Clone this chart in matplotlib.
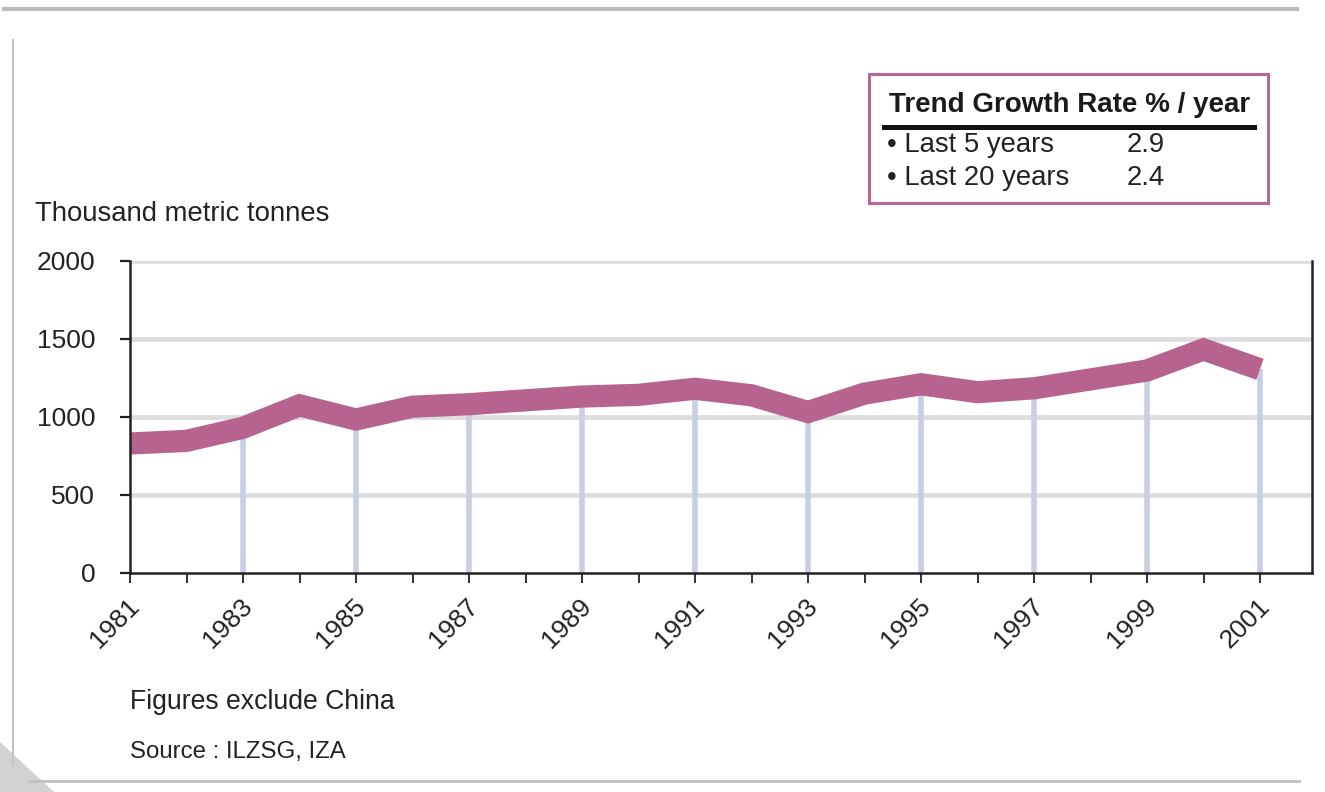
import matplotlib
matplotlib.use("Agg")
import matplotlib.pyplot as plt
from matplotlib.patches import Rectangle, Polygon
from matplotlib.lines import Line2D
from matplotlib.transforms import ScaledTranslation

# ---- data ----
years = list(range(1981, 2002))
consumption = [830, 847, 931, 1075, 984, 1066, 1082, 1107, 1131, 1142, 1181,
               1139, 1032, 1150, 1210, 1159, 1184, 1241, 1298, 1433, 1306]
stem_years = list(range(1983, 2002, 2))
y_ticks = [0, 500, 1000, 1500, 2000]
x_label_years = list(range(1981, 2002, 2))
box_title = "Trend Growth Rate % / year"
box_rows = ["\u2022 Last 5 years", "\u2022 Last 20 years"]
box_values = ["2.9", "2.4"]

W, H = 1325, 792
plt.rcParams['font.family'] = ['Liberation Sans', 'DejaVu Sans']
fig = plt.figure(figsize=(W / 100, H / 100), dpi=100)
fig.patch.set_facecolor('white')

def fx(x):
    return x / W

def fy(y):
    return 1 - y / H

# axes placement (pixels)
ax_l, ax_r, ax_t, ax_b = 130, 1312, 261, 573
ax = fig.add_axes([fx(ax_l), fy(ax_b), (ax_r - ax_l) / W, (ax_b - ax_t) / H])
ax.set_xlim(1981, 1981 + (ax_r - ax_l) / 56.5)
ax.set_ylim(0, 2000)

band_color = '#B6648F'
stem_color = '#C7CFE6'
grid_color = '#DCDDDF'

# gridlines
for v in y_ticks[1:]:
    ax.axhline(v, color=grid_color, lw=3.4, zorder=1)

# stems at odd years
stem_vals = [consumption[years.index(y)] for y in stem_years]
ax.vlines(stem_years, 0, stem_vals, colors=stem_color, lw=4.0, zorder=2)

# thick band line
ax.plot(years, consumption, color=band_color, lw=16,
        solid_capstyle='butt', solid_joinstyle='miter', zorder=3)

# spines
ax.spines['top'].set_visible(False)
for s in ['left', 'bottom', 'right']:
    ax.spines[s].set_linewidth(1.8)
    ax.spines[s].set_color('#222222')
    ax.spines[s].set_zorder(4)

ax.set_yticks(y_ticks)
ax.set_yticklabels([str(v) for v in y_ticks])
ax.set_xticks(years)
ax.set_xticklabels([str(y) if y in x_label_years else '' for y in years])

ax.tick_params(axis='y', direction='out', length=7, width=1.6, color='#222222',
               labelsize=19, pad=18, labelcolor='#222222')
ax.tick_params(axis='x', direction='out', length=7, width=1.3, color='#222222',
               labelsize=19, pad=14, labelcolor='#222222')
offset = ScaledTranslation(6 / 100, 0, fig.dpi_scale_trans)
for lbl in ax.get_xticklabels():
    lbl.set_rotation(45)
    lbl.set_rotation_mode('anchor')
    lbl.set_ha('right')
    lbl.set_va('center')
    lbl.set_transform(lbl.get_transform() + offset)

# texts
fig.text(fx(35), fy(214), "Thousand metric tonnes", fontsize=19.8, va='center',
         ha='left', color='#222222')
fig.text(fx(130), fy(702), "Figures exclude China", fontsize=19.2, va='center',
         ha='left', color='#222222')
fig.text(fx(130), fy(752), "Source : ILZSG, IZA", fontsize=17.3, va='center',
         ha='left', color='#222222',
         family=['Liberation Sans Narrow', 'Liberation Sans'])

# growth-rate box
fig.add_artist(Rectangle((fx(869), fy(203)), (1268 - 869) / W, (203 - 74) / H,
                         fill=False, edgecolor='#B8679C', lw=2.2))
fig.text(fx(889), fy(105), box_title, fontsize=20, fontweight='bold',
         va='center', ha='left', color='#1a1a1a')
fig.add_artist(Line2D([fx(884), fx(1254)], [fy(127), fy(127)], color='#111111',
                      lw=3.6))
for i, (r, v) in enumerate(zip(box_rows, box_values)):
    yy = 145 + i * 33
    fig.text(fx(887), fy(yy), r, fontsize=19.8, va='center', ha='left',
             color='#222222')
    fig.text(fx(1127), fy(yy), v, fontsize=19.8, va='center', ha='left',
             color='#222222')

# page decorations
fig.add_artist(Line2D([fx(4), fx(1297)], [fy(9), fy(9)], color='#BDBDBD', lw=3))
fig.add_artist(Line2D([fx(13), fx(13)], [fy(40), fy(765)], color='#C4C4C4', lw=1.5))
fig.add_artist(Line2D([fx(30), fx(1299)], [fy(781), fy(781)], color='#C4C4C4', lw=2.2))
fig.add_artist(Polygon([(fx(0), fy(742)), (fx(0), fy(792)), (fx(54), fy(792))],
                       closed=True, color='#D2D2D2', lw=0))

fig.savefig('out.png', dpi=100, facecolor='white')
